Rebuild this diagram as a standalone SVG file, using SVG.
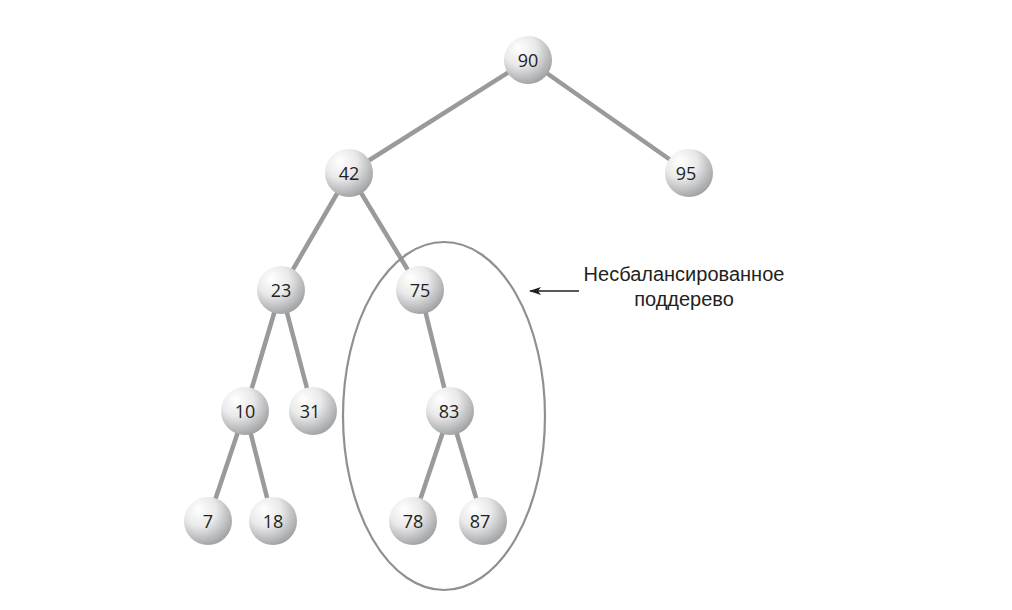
<svg xmlns="http://www.w3.org/2000/svg" width="1012" height="610" viewBox="0 0 1012 610">
<style>
.e{stroke:#999a9c;stroke-width:4.5;stroke-linecap:round}
.n circle{fill:url(#g)}
.n text{font-family:"Open Sans","Noto Sans",sans-serif;font-size:18px;fill:#231f20;text-anchor:middle;dominant-baseline:central}
.lbl{font-family:"Liberation Sans",Arial,sans-serif;font-size:20px;fill:#231f20;text-anchor:middle}
</style>
<defs>
<radialGradient id="g" cx="0.38" cy="0.32" r="0.75" fx="0.3" fy="0.25">
<stop offset="0" stop-color="#ffffff"/>
<stop offset="0.45" stop-color="#e9e9ea"/>
<stop offset="0.8" stop-color="#b6b7b9"/>
<stop offset="1" stop-color="#98999b"/>
</radialGradient>
<marker id="a" markerWidth="12" markerHeight="8" refX="11" refY="4" orient="auto" markerUnits="userSpaceOnUse">
<path d="M0,0 L12,4 L0,8 L3,4 Z" fill="#231f20"/>
</marker>
</defs>
<g id="connectors">
<line class="e" x1="528" y1="60" x2="349" y2="173"/>
<line class="e" x1="528" y1="60" x2="689" y2="173"/>
<line class="e" x1="349" y1="173" x2="281" y2="290"/>
<line class="e" x1="349" y1="173" x2="420" y2="290"/>
<line class="e" x1="281" y1="290" x2="245" y2="411"/>
<line class="e" x1="281" y1="290" x2="313" y2="411"/>
<line class="e" x1="420" y1="290" x2="450" y2="411"/>
<line class="e" x1="245" y1="411" x2="208" y2="521"/>
<line class="e" x1="245" y1="411" x2="273" y2="521"/>
<line class="e" x1="450" y1="411" x2="413" y2="521"/>
<line class="e" x1="450" y1="411" x2="483" y2="521"/>
<line x1="579" y1="291" x2="530" y2="291" stroke="#231f20" stroke-width="1.3" marker-end="url(#a)"/>
</g>
<g id="subtree-ellipse"><ellipse cx="444" cy="416" rx="101" ry="174" fill="none" stroke="#8f9092" stroke-width="2.2"/></g>
<g id="n90" class="n"><circle cx="528" cy="60" r="24"/><text x="528" y="60">90</text></g>
<g id="n42" class="n"><circle cx="349" cy="173" r="24"/><text x="349" y="173">42</text></g>
<g id="n95" class="n"><circle cx="689" cy="173" r="24"/><text x="686" y="173">95</text></g>
<g id="n23" class="n"><circle cx="281" cy="290" r="24"/><text x="281" y="290">23</text></g>
<g id="n75" class="n"><circle cx="420" cy="290" r="24"/><text x="420" y="290">75</text></g>
<g id="n10" class="n"><circle cx="245" cy="411" r="24"/><text x="245" y="411">10</text></g>
<g id="n31" class="n"><circle cx="313" cy="411" r="24"/><text x="310" y="411">31</text></g>
<g id="n83" class="n"><circle cx="450" cy="411" r="24"/><text x="449" y="411">83</text></g>
<g id="n7" class="n"><circle cx="208" cy="521" r="24"/><text x="208" y="521">7</text></g>
<g id="n18" class="n"><circle cx="273" cy="521" r="24"/><text x="273" y="521">18</text></g>
<g id="n78" class="n"><circle cx="413" cy="521" r="24"/><text x="413" y="521">78</text></g>
<g id="n87" class="n"><circle cx="483" cy="521" r="24"/><text x="480" y="521">87</text></g>
<g id="label">
<text class="lbl" x="684" y="281">Несбалансированное</text>
<text class="lbl" x="684" y="306">поддерево</text>
</g>
</svg>
